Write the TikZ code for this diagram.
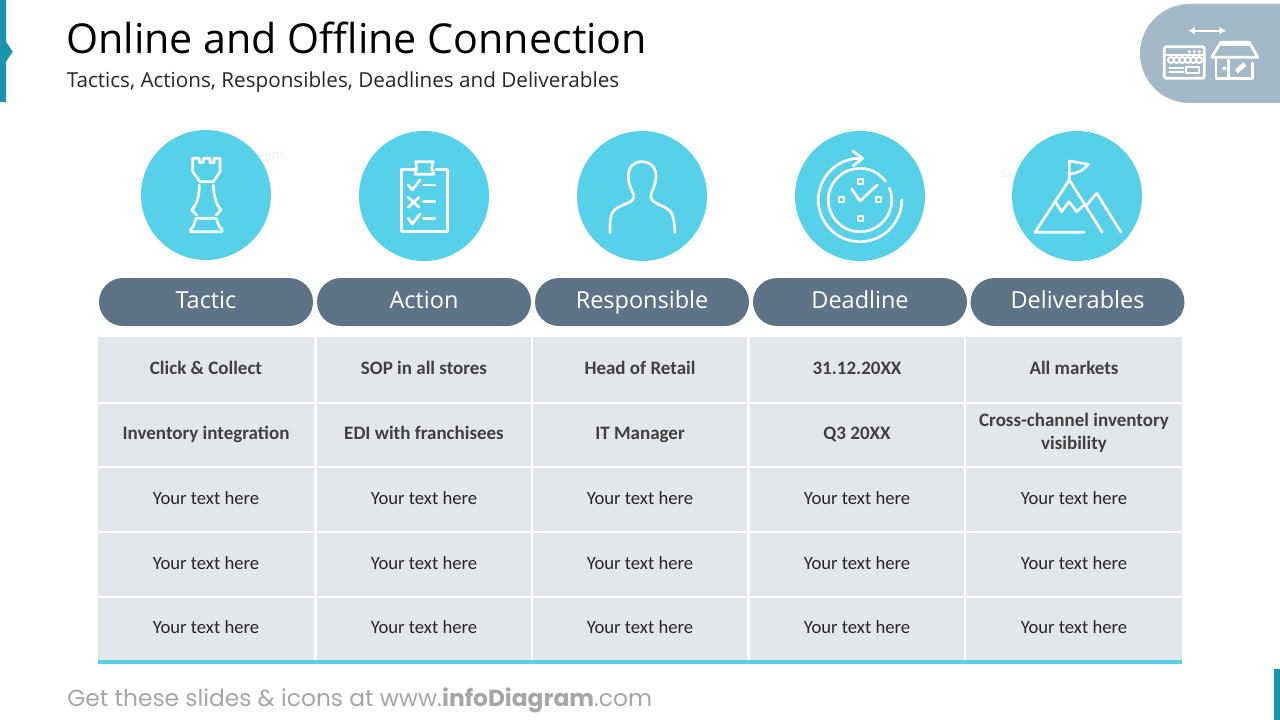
\documentclass[tikz,border=0pt]{standalone}
\usepackage{fontspec}
\usepackage{xcolor}
\usepackage{tikz}
\usetikzlibrary{shapes.misc,arrows.meta}
\setmainfont{Open Sans}
\newfontfamily\cellfont{Carlito}
\newfontfamily\footfont{Poppins}
\definecolor{teal}{HTML}{1A93AC}
\definecolor{sky}{HTML}{57D0EA}
\definecolor{slate}{HTML}{5F7386}
\definecolor{cell}{HTML}{E3E6EB}
\definecolor{badge}{HTML}{A3B9C7}
\definecolor{ink}{HTML}{262626}
\definecolor{boldink}{HTML}{404040}
\definecolor{foot}{HTML}{A6A6A6}
\definecolor{faint}{HTML}{E6EBF4}
\tikzset{
  iconline/.style={draw=white, line width=2pt, line cap=round, line join=round},
  smallline/.style={draw=white, line width=1.5pt, line cap=round, line join=round},
  disc/.style={circle, fill=sky, minimum size=97.5pt, inner sep=0pt},
  pill/.style={rounded rectangle, fill=slate, text=white, minimum width=160.5pt, minimum height=36pt, inner sep=0pt, text height=13pt, text depth=3pt, font=\fontsize{17.6}{22}\selectfont},
  cellbox/.style={fill=cell, text=ink, inner sep=0pt, align=center, execute at begin node=\strut, font=\cellfont\fontsize{14}{17}\selectfont},
  boldbox/.style={cellbox, text=boldink, font=\cellfont\bfseries\fontsize{14.25}{17}\selectfont},
  wide/.style={minimum width=162pt},
  narrow/.style={minimum width=160.5pt},
  lbl/.style={anchor=west, inner sep=0pt, text=black}
}

\begin{document}
\begin{tikzpicture}[x=0.75pt, y=-0.75pt]
  \useasboundingbox (0,0) rectangle (1280,720);

  \fill[teal] (0,0) -- (6,0) -- (6,41.7) -- (12.7,51.7) -- (6,61.7) -- (6,102) -- (0,102) -- cycle;
  \fill[teal] (1274,669) rectangle (1280,720);
  \fill[badge] (1280,4) -- (1189.5,4) arc[start angle=270, end angle=90, radius=49.5] -- (1280,103) -- cycle;

  \node[lbl, font=\fontsize{30.9}{36}\selectfont] (title) at (66,38) {Online and Offline Connection};
  \node[lbl, font=\fontsize{15.5}{18}\selectfont, text=ink] (subtitle) at (66.5,82.5) {Tactics, Actions, Responsibles, Deadlines and Deliverables};

  \node[text=faint, rotate=12, font=\fontsize{9}{10}\selectfont] (markcom) at (271,157) {com};
  \node[text=faint, font=\fontsize{9}{10}\selectfont] (markc) at (1005,173) {©};

  \node[disc] (disc1) at (206,195) {};
  \node[disc] (disc2) at (424,196) {};
  \node[disc] (disc3) at (642,196) {};
  \node[disc] (disc4) at (860,196) {};
  \node[disc] (disc5) at (1077,196) {};

  \node[pill] (pill1) at (206,302) {Tactic};
  \node[pill] (pill2) at (424,302) {Action};
  \node[pill] (pill3) at (642,302) {Responsible};
  \node[pill] (pill4) at (860,302) {Deadline};
  \node[pill] (pill5) at (1077.5,302) {Deliverables};

  \node[boldbox, wide, minimum height=48.75pt] (c11) at (206,369.5) {Click \& Collect};
  \node[boldbox, narrow, minimum height=48.75pt] (c12) at (424,369.5) {SOP in all stores};
  \node[boldbox, narrow, minimum height=48.75pt] (c13) at (640,369.5) {Head of Retail};
  \node[boldbox, narrow, minimum height=48.75pt] (c14) at (857,369.5) {31.12.20XX};
  \node[boldbox, wide, minimum height=48.75pt] (c15) at (1074,369.5) {All markets};

  \node[boldbox, wide, minimum height=46.5pt] (c21) at (206,435) {Inventory integration};
  \node[boldbox, narrow, minimum height=46.5pt] (c22) at (424,435) {EDI with franchisees};
  \node[boldbox, narrow, minimum height=46.5pt] (c23) at (640,435) {IT Manager};
  \node[boldbox, narrow, minimum height=46.5pt] (c24) at (857,435) {Q3 20XX};
  \node[boldbox, wide, minimum height=46.5pt] (c25) at (1074,435) {Cross-channel inventory\\visibility};

  \foreach \r/\y in {3/499.5,4/564.5,5/629}{
    \node[cellbox, wide, minimum height=47pt] (c\r1) at (206,\y) {Your text here};
    \node[cellbox, narrow, minimum height=47pt] (c\r2) at (424,\y) {Your text here};
    \node[cellbox, narrow, minimum height=47pt] (c\r3) at (640,\y) {Your text here};
    \node[cellbox, narrow, minimum height=47pt] (c\r4) at (857,\y) {Your text here};
    \node[cellbox, wide, minimum height=47pt] (c\r5) at (1074,\y) {Your text here};
  }
  \fill[sky] (98,660) rectangle (1182,663.5);

  \node[lbl, text=foot, font=\footfont\fontsize{17.5}{20}\selectfont] (footer) at (67,700) {Get these slides \& icons at www.\textbf{infoDiagram}.com};

  \draw[iconline] (192.7,171.7) -- (192.7,158.3) -- (199.3,158.3) -- (199.3,162.7) -- (203.3,162.7) -- (203.3,158.3) -- (210,158.3) -- (210,162.7) -- (214,162.7) -- (214,158.3) -- (220,158.3) -- (220,171.7) -- (213.3,181.7) -- (200,181.7) -- cycle;
  \draw[iconline] (199.3,185) .. controls (199,195) and (198,203) .. (191.7,210) -- (196.7,215);
  \draw[iconline] (213.3,185) .. controls (214,195) and (215,203) .. (221,210) -- (216.3,215);
  \draw[iconline] (196,218.3) -- (216,218.3) -- (219.3,226.7) -- (222,229) -- (222,231.7) -- (190.7,231.7) -- (190.7,229.3) -- (193.3,226.7) -- cycle;

  \draw[iconline] (415,169.3) -- (401.7,169.3) -- (401.7,231.7) -- (447.7,231.7) -- (447.7,169.3) -- (436,169.3);
  \draw[iconline] (415.7,161.7) -- (433.3,161.7) -- (431.7,168.3) -- (434,174.3) -- (415,174.3) -- (416.7,168.3) -- cycle;
  \draw[iconline] (408.3,185) -- (412.3,190) -- (420,180);
  \draw[iconline] (423.3,185) -- (435,185);
  \draw[iconline] (408.3,197.3) -- (419,207.3);
  \draw[iconline] (419,197.3) -- (408.3,207.3);
  \draw[iconline] (423.3,201.7) -- (435,201.7);
  \draw[iconline] (408.3,218.3) -- (412.3,224) -- (420,214);
  \draw[iconline] (423.3,218.7) -- (435,218.7);

  \draw[iconline] (610,232.7) .. controls (610,218) and (610,212) .. (618.3,207.3) .. controls (624,204) and (634,202) .. (634,197) .. controls (634,192) and (628.5,188) .. (628.3,176) .. controls (628.3,167) and (634,161.7) .. (641.7,161.7) .. controls (650,161.7) and (656,167) .. (656,176) .. controls (656,186) and (650.7,192) .. (650.7,197) .. controls (650.7,202) and (661,205) .. (666.7,208.3) .. controls (673,212) and (674,218) .. (675,232.7);

  \draw[iconline] (860,200) ++(-22:31.7) arc[start angle=-22, end angle=324, radius=31.7];
  \draw[iconline] (901.7,200) arc[start angle=0, end angle=270, radius=41.7] -- (861.7,158.3);
  \draw[iconline] (852.7,151) -- (862.7,158.3) -- (853.3,165.7);
  \draw[iconline] (851.7,189) -- (860,201) -- (877.3,185);
  \foreach \px/\py in {860/181.7,860/219,841.7/200,878.3/200}{
    \draw[smallline] (\px-2.5,\py-2.5) rectangle (\px+2.5,\py+2.5);
  }

  \draw[iconline] (1084,232.3) -- (1035,232.3) -- (1069.3,180) -- (1102.3,232.3);
  \draw[iconline] (1069.3,180) -- (1069.3,161) -- (1088.3,164.3) .. controls (1084,170) and (1078,173) .. (1070.7,174);
  \draw[iconline] (1056,202.7) -- (1061.7,211.7) -- (1069,201.7) -- (1076.7,211.7) -- (1085,204);
  \draw[iconline] (1086.7,205) -- (1096.7,193.3) -- (1121,232.3);

  \draw[smallline, {Latex[length=5pt,width=6pt]}-{Latex[length=5pt,width=6pt]}] (1188.3,30.7) -- (1226,30.7);
  \draw[iconline, rounded corners=1.5pt] (1164.3,46.7) rectangle (1204.3,78.3);
  \draw[smallline] (1164.3,55) -- (1204.3,55);
  \foreach \px in {1189.3,1194.3,1199.3}{
    \fill[white] (\px,51.7) circle[radius=1.8];
  }
  \foreach \px in {1171,1176.6,1182.2,1187.8,1193.4,1199}{
    \draw[smallline] (\px,60) circle[radius=3];
  }
  \draw[smallline] (1169.3,68.3) -- (1183.3,68.3);
  \draw[smallline] (1169.3,72.3) -- (1183.3,72.3);
  \draw[smallline] (1185.7,66.7) rectangle (1199,72.7);
  \draw[iconline] (1211.7,57.3) -- (1220.7,42.3) -- (1249.3,42.3) -- (1257.7,57.3) -- cycle;
  \fill[white] (1220.7,42.3) rectangle (1249.3,46);
  \draw[iconline] (1216,58.3) -- (1216,78.3) -- (1252.7,78.3) -- (1252.7,63);
  \draw[iconline] (1228.3,60) -- (1228.3,78.3);
  \draw[smallline] (1224.3,68.3) circle[radius=1.2];
  \draw[white, line width=3.5pt] (1236.5,71.5) -- (1245,64);
\end{tikzpicture}
\end{document}
